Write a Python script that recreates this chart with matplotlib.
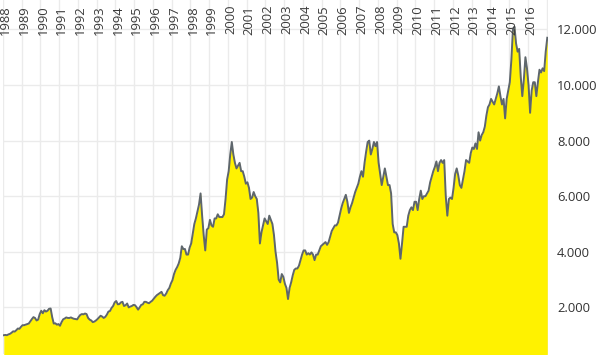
import numpy as np
import matplotlib
matplotlib.use("Agg")
import matplotlib.pyplot as plt
import matplotlib.transforms as mtransforms

plt.rcParams['font.family'] = ['Open Sans', 'DejaVu Sans']

# monthly index level, Jan 1988 .. Jan 2017
start_year = 1988
levels = [
    1000, 1010, 1000, 1030, 1050, 1090, 1140, 1130, 1180, 1240, 1230, 1300,   # 1988
    1360, 1360, 1380, 1400, 1420, 1500, 1580, 1650, 1620, 1530, 1560, 1760,   # 1989
    1880, 1790, 1900, 1850, 1880, 1950, 1960, 1650, 1420, 1430, 1380, 1400,   # 1990
    1340, 1470, 1570, 1600, 1640, 1620, 1620, 1640, 1610, 1590, 1580, 1570,   # 1991
    1660, 1730, 1760, 1750, 1780, 1760, 1620, 1560, 1530, 1470, 1490, 1530,   # 1992
    1580, 1640, 1700, 1670, 1620, 1660, 1740, 1850, 1870, 1980, 2050, 2180,   # 1993
    2230, 2110, 2120, 2180, 2200, 2050, 2080, 2140, 2000, 2030, 2050, 2090,   # 1994
    2080, 2010, 1920, 2000, 2090, 2110, 2200, 2200, 2170, 2150, 2200, 2240,   # 1995
    2310, 2380, 2440, 2480, 2520, 2560, 2440, 2420, 2500, 2620, 2700, 2860,   # 1996
    2980, 3200, 3350, 3450, 3580, 3780, 4200, 4100, 4100, 3900, 3900, 4150,   # 1997
    4300, 4650, 5000, 5200, 5450, 5700, 6100, 5300, 4600, 4050, 4800, 4850,   # 1998
    5150, 4950, 4900, 5200, 5200, 5350, 5250, 5250, 5250, 5350, 5900, 6600,   # 1999
    6900, 7500, 7950, 7500, 7200, 7000, 7100, 7200, 6900, 6900, 6700, 6450,   # 2000
    6500, 6300, 5900, 5950, 6150, 6000, 5900, 5400, 4300, 4700, 4950, 5200,   # 2001
    5100, 5000, 5300, 5150, 5000, 4600, 4000, 3600, 3000, 2900, 3200, 3100,   # 2002
    2850, 2700, 2300, 2700, 2900, 3150, 3350, 3400, 3400, 3500, 3700, 3900,   # 2003
    4050, 4050, 3900, 3950, 3900, 3980, 3900, 3700, 3900, 3900, 4050, 4200,   # 2004
    4250, 4300, 4350, 4250, 4350, 4550, 4750, 4850, 4950, 4950, 5050, 5300,   # 2005
    5550, 5750, 5900, 6050, 5800, 5400, 5600, 5750, 5950, 6150, 6300, 6450,   # 2006
    6700, 6900, 6700, 7200, 7600, 7950, 8000, 7500, 7700, 7950, 7800, 7950,   # 2007
    7200, 6800, 6400, 6700, 7000, 6700, 6400, 6400, 6100, 5000, 4700, 4700,   # 2008
    4600, 4300, 3750, 4300, 4900, 4900, 4900, 5300, 5500, 5600, 5500, 5800,   # 2009
    5800, 5500, 5900, 6200, 5900, 6000, 6000, 6100, 6200, 6500, 6700, 6900,   # 2010
    7050, 7250, 6900, 7200, 7300, 7200, 7300, 6000, 5300, 5900, 5950, 5900,   # 2011
    6300, 6800, 7000, 6750, 6400, 6300, 6600, 6900, 7300, 7250, 7200, 7550,   # 2012
    7750, 7700, 7900, 7700, 8300, 8000, 8200, 8300, 8500, 8900, 9200, 9300,   # 2013
    9500, 9400, 9300, 9500, 9700, 9950, 9600, 9300, 9500, 8800, 9500, 9800,   # 2014
    10100, 10900, 12000, 12100, 11500, 11200, 11300, 10300, 9600, 10200, 11000, 10600,  # 2015
    10000, 9000, 9800, 10100, 10100, 9600, 10100, 10550, 10450, 10600, 10500, 11200,   # 2016
    11700,                                                                    # 2017
]
year_labels = [str(y) for y in range(1988, 2017)]
grid_years = list(range(1988, 2018))
y_ticks = [2000, 4000, 6000, 8000, 10000, 12000]

t = start_year + (np.arange(len(levels)) + 0.5) / 12.0

fig = plt.figure(figsize=(5.98, 3.57), dpi=100)
ax = fig.add_axes([3 / 598, 3 / 357, 545 / 598, 354 / 357])

ax.fill_between(t, levels, 0, color='#fff200', linewidth=0, zorder=2)
ax.plot(t, levels, color='#5e666c', linewidth=1.4, zorder=3)

ax.set_xlim(1988, 2017.08)
ax.set_ylim(324, 13058)

for gy in grid_years:
    ax.axvline(gy, color='#ebebeb', linewidth=1, zorder=1)
for yt in y_ticks:
    ax.axhline(yt, color='#ebebeb', linewidth=1, zorder=1)

ax.set_xticks([])
ax.set_yticks(y_ticks)
ax.set_yticklabels([f"{v:,}".replace(",", ".") for v in y_ticks])
ax.tick_params(axis='y', left=False, right=False, labelleft=False,
               labelright=True, pad=3, labelsize=9.4, labelcolor='#333333')

trans = mtransforms.blended_transform_factory(ax.transData, ax.transAxes)
for lab in year_labels:
    ax.text(int(lab) + 0.14, 0.986, lab, transform=trans, rotation=90,
            ha='center', va='top', fontsize=9.4, color='#3a3a3a', zorder=4)

for s in ax.spines.values():
    s.set_visible(False)

fig.savefig("out.png", dpi=100)
